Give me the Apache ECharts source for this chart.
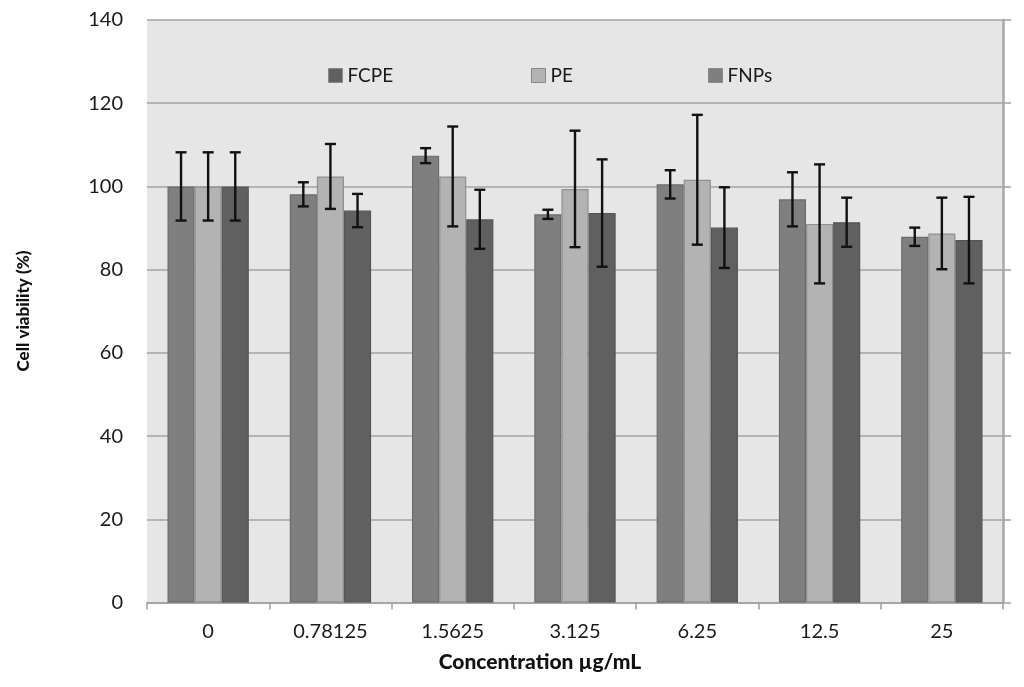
<!DOCTYPE html>
<html>
<head>
<meta charset="utf-8">
<script src="https://cdn.jsdelivr.net/npm/echarts@6/dist/echarts.min.js"></script>
<style>html,body{margin:0;padding:0;background:#fff}#c{width:1024px;height:687px}</style>
</head>
<body>
<div id="c"></div>
<script>
const categories = ['0', '0.78125', '1.5625', '3.125', '6.25', '12.5', '25'];
const seriesNames = ['FCPE', 'PE', 'FNPs'];
const fcpe = [100, 98.1, 107.4, 93.3, 100.5, 96.9, 87.9];
const fcpeErr = [8.2, 2.9, 1.8, 1.1, 3.4, 6.5, 2.2];
const pe = [100, 102.4, 102.4, 99.4, 101.6, 91.0, 88.7];
const peErr = [8.2, 7.8, 12.0, 14.0, 15.6, 14.3, 8.6];
const fnps = [100, 94.2, 92.1, 93.6, 90.1, 91.4, 87.1];
const fnpsErr = [8.2, 4.0, 7.1, 12.9, 9.7, 5.9, 10.4];
const yTicks = [0, 20, 40, 60, 80, 100, 120, 140];
const xTitle = 'Concentration µg/mL';
const yTitle = 'Cell viability (%)';

const barColors = ['#7f7f7f', '#b3b3b3', '#606060'];
const barBorders = ['#6b6b6b', '#8f8f8f', '#555555'];
const legendColors = ['#606060', '#b3b3b3', '#7f7f7f'];
const gapRatio = 0.335;
const FONT = 'Lato, "Open Sans", sans-serif';

const chart = echarts.init(document.getElementById('c'));
const values = [fcpe, pe, fnps];
const errs = [fcpeErr, peErr, fnpsErr];

function errRender(k) {
  return function (params, api) {
    const ci = api.value(0), v = api.value(1), e = api.value(2);
    const c = api.coord([ci, v]);
    const band = api.size([1, 0])[0];
    const bw = band * (1 - gapRatio) / 3;
    const x = c[0] + (k - 1) * bw;
    const top = api.coord([ci, v + e])[1];
    const bot = api.coord([ci, v - e])[1];
    const cap = 5.5;
    const st = { stroke: '#111', lineWidth: 2.4 };
    return {
      type: 'group',
      children: [
        { type: 'line', shape: { x1: x, y1: top, x2: x, y2: bot }, style: st },
        { type: 'line', shape: { x1: x - cap, y1: top, x2: x + cap, y2: top }, style: st },
        { type: 'line', shape: { x1: x - cap, y1: bot, x2: x + cap, y2: bot }, style: st }
      ]
    };
  };
}

const series = [];
seriesNames.forEach((n, k) => {
  series.push({
    name: n, type: 'bar', data: values[k],
    barGap: '0%', barCategoryGap: (gapRatio * 100) + '%',
    itemStyle: { color: barColors[k], borderColor: barBorders[k], borderWidth: 1.2 },
    emphasis: { disabled: true },
    z: 2
  });
});
seriesNames.forEach((n, k) => {
  series.push({
    name: n + ' err', type: 'custom',
    renderItem: errRender(k),
    data: values[k].map((v, i) => [i, v, errs[k][i]]),
    z: 5, silent: true
  });
});

const legendX = [328, 531, 708];
const legends = seriesNames.map((n, k) => ({
  left: legendX[k], top: 66, padding: 0, icon: 'rect', itemWidth: 14, itemHeight: 14, itemGap: 6,
  selectedMode: false,
  textStyle: { fontFamily: FONT, fontSize: 19, color: '#1a1a1a' },
  data: [{ name: n, itemStyle: { color: legendColors[k], borderColor: '#888', borderWidth: 1 } }]
}));

chart.setOption({
  animation: false,
  backgroundColor: '#fff',
  legend: legends,
  graphic: [
    { type: 'text', x: 540, y: 662, style: { text: xTitle, fontFamily: FONT, fontSize: 21, fontWeight: 900, fill: '#111', align: 'center', verticalAlign: 'middle' } },
    { type: 'text', x: 24, y: 311, rotation: Math.PI / 2, style: { text: yTitle, fontFamily: FONT, fontSize: 17, fontWeight: 900, fill: '#111', align: 'center', verticalAlign: 'middle' } }
  ],
  grid: { left: 147, right: 21, top: 20, bottom: 84.5, show: true, backgroundColor: '#e6e6e6', borderWidth: 0 },
  xAxis: {
    type: 'category', data: categories,
    axisLine: { lineStyle: { color: '#a0a0a0', width: 1.5 } },
    axisTick: { show: true, length: 7, lineStyle: { color: '#a0a0a0', width: 1.5 } },
    axisLabel: { fontFamily: FONT, fontSize: 20, color: '#1a1a1a', margin: 19 }
  },
  yAxis: [{
    type: 'value', min: yTicks[0], max: yTicks[yTicks.length - 1], interval: 20,
    axisLine: { show: false }, axisTick: { show: false },
    axisLabel: { fontFamily: FONT, fontSize: 20, color: '#1a1a1a', margin: 24 },
    splitLine: { show: true, lineStyle: { color: '#a3a3a3', width: 1.5 } }
  }, {
    type: 'value', position: 'right', min: yTicks[0], max: yTicks[yTicks.length - 1], interval: 20,
    axisLine: { show: true, lineStyle: { color: '#a8a8a8', width: 2.5 } },
    axisTick: { show: true, inside: false, length: 8, lineStyle: { color: '#a3a3a3', width: 1.5 } },
    axisLabel: { show: false }, splitLine: { show: false }
  }],
  series: series
});
</script>
</body>
</html>
